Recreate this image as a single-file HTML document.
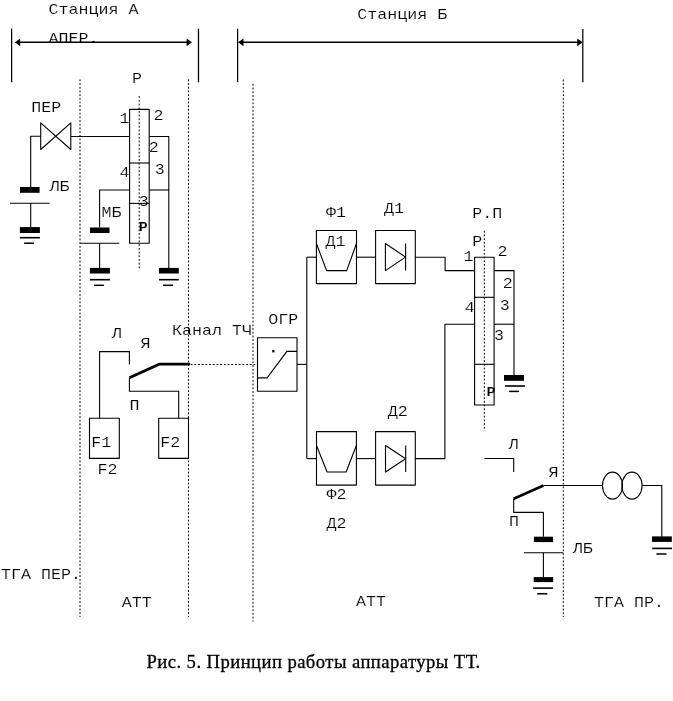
<!DOCTYPE html>
<html lang="ru"><head><meta charset="utf-8"><title>Рис. 5</title>
<style>
html,body{margin:0;padding:0;background:#fff;}
body{width:673px;height:701px;overflow:hidden;position:relative;filter:grayscale(1);}
svg{position:absolute;left:0;top:0;display:block;}
svg *{vector-effect:none;}
.g{fill:none;stroke:#000;stroke-linejoin:round;}
.t text{font-family:"Liberation Mono","DejaVu Sans Mono",monospace;fill:#000;stroke:#fff;stroke-width:0.14;paint-order:fill stroke;text-anchor:middle;}
.cap{position:absolute;left:146.5px;top:651px;margin:0;white-space:nowrap;font-family:"Liberation Serif","DejaVu Serif",serif;font-size:18.67px;letter-spacing:0.43px;-webkit-text-stroke:0.3px #000;line-height:22px;color:#000;}
</style></head><body>
<svg width="673" height="701" viewBox="0 0 673 701">
<g class="g t">
<text transform="translate(93.5,14) scale(1.142,1)" font-size="14.6">Станция А</text>
<text transform="translate(73.5,43.0) scale(1.142,1)" font-size="14.6">АПЕР.</text>
<text transform="translate(136.9,82.8) scale(1.142,1)" font-size="14.6">Р</text>
<text transform="translate(46.3,112) scale(1.142,1)" font-size="14.6">ПЕР</text>
<text transform="translate(124.5,122.8) scale(1.142,1)" font-size="14.6">1</text>
<text transform="translate(158.4,119.7) scale(1.142,1)" font-size="14.6">2</text>
<text transform="translate(153.8,152) scale(1.142,1)" font-size="14.6">2</text>
<text transform="translate(124.5,177) scale(1.142,1)" font-size="14.6">4</text>
<text transform="translate(159.8,174) scale(1.142,1)" font-size="14.6">3</text>
<text transform="translate(143.8,205.7) scale(1.142,1)" font-size="14.6">3</text>
<text transform="translate(111.4,216.8) scale(1.142,1)" font-size="14.6">МБ</text>
<text transform="translate(59.5,191) scale(1.142,1)" font-size="14.6">ЛБ</text>
<text transform="translate(116.8,337.6) scale(1.142,1)" font-size="14.6">Л</text>
<text transform="translate(145.5,347.5) scale(1.142,1)" font-size="14.6">Я</text>
<text transform="translate(212,334.8) scale(1.142,1)" font-size="14.6">Канал ТЧ</text>
<text transform="translate(134.6,410.4) scale(1.142,1)" font-size="14.6">П</text>
<text transform="translate(101.2,447) scale(1.142,1)" font-size="14.6">F1</text>
<text transform="translate(170.2,447) scale(1.142,1)" font-size="14.6">F2</text>
<text transform="translate(107.4,474.4) scale(1.142,1)" font-size="14.6">F2</text>
<text transform="translate(402.2,18.6) scale(1.142,1)" font-size="14.6">Станция Б</text>
<text transform="translate(336,217.1) scale(1.142,1)" font-size="14.6">Ф1</text>
<text transform="translate(394,213.2) scale(1.142,1)" font-size="14.6">Д1</text>
<text transform="translate(335.5,245.8) scale(1.142,1)" font-size="14.6">Д1</text>
<text transform="translate(487.3,218.2) scale(1.142,1)" font-size="14.6">Р.П</text>
<text transform="translate(477.2,245.8) scale(1.142,1)" font-size="14.6">Р</text>
<text transform="translate(468.5,260.8) scale(1.142,1)" font-size="14.6">1</text>
<text transform="translate(502.6,256) scale(1.142,1)" font-size="14.6">2</text>
<text transform="translate(507.8,288.4) scale(1.142,1)" font-size="14.6">2</text>
<text transform="translate(469.8,311.9) scale(1.142,1)" font-size="14.6">4</text>
<text transform="translate(504.8,309.6) scale(1.142,1)" font-size="14.6">3</text>
<text transform="translate(498.9,339.5) scale(1.142,1)" font-size="14.6">3</text>
<text transform="translate(513.6,448.6) scale(1.142,1)" font-size="14.6">Л</text>
<text transform="translate(283.2,324) scale(1.142,1)" font-size="14.6">ОГР</text>
<text transform="translate(397.8,415.9) scale(1.142,1)" font-size="14.6">Д2</text>
<text transform="translate(336.5,499.3) scale(1.142,1)" font-size="14.6">Ф2</text>
<text transform="translate(336.5,528.3) scale(1.142,1)" font-size="14.6">Д2</text>
<text transform="translate(553.5,476.9) scale(1.142,1)" font-size="14.6">Я</text>
<text transform="translate(514,526) scale(1.142,1)" font-size="14.6">П</text>
<text transform="translate(582.7,553.2) scale(1.142,1)" font-size="14.6">ЛБ</text>
<text transform="translate(629,607) scale(1.142,1)" font-size="14.6">ТГА ПР.</text>
<text transform="translate(41,578.8) scale(1.142,1)" font-size="14.6">ТГА ПЕР.</text>
<text transform="translate(136.7,606.5) scale(1.142,1)" font-size="14.6">АТТ</text>
<text transform="translate(371,606) scale(1.142,1)" font-size="14.6">АТТ</text>
<text transform="translate(143.2,230.6) scale(1.1,1)" font-size="13.6" font-weight="bold" stroke="none">Р</text>
<text transform="translate(490.9,395.5) scale(1.1,1)" font-size="13.6" font-weight="bold" stroke="none">Р</text>
<line x1="11.6" y1="28.5" x2="11.6" y2="82.2" stroke-width="1.25" />
<line x1="198.5" y1="28.7" x2="198.5" y2="82.3" stroke-width="1.25" />
<line x1="19" y1="42.3" x2="188" y2="42.3" stroke-width="1.5" />
<polygon points="14.8,42.3 20.2,38.4 20.2,46.2" stroke-width="0" fill="#000" stroke="none"/>
<polygon points="192,42.3 186.6,38.4 186.6,46.2" stroke-width="0" fill="#000" stroke="none"/>
<line x1="237.6" y1="28.7" x2="237.6" y2="82.2" stroke-width="1.25" />
<line x1="582.8" y1="28.9" x2="582.8" y2="82.3" stroke-width="1.25" />
<line x1="242" y1="42.3" x2="578" y2="42.3" stroke-width="1.5" />
<polygon points="238,42.3 243.5,38.4 243.5,46.2" stroke-width="0" fill="#000" stroke="none"/>
<polygon points="582.6,42.3 577.2,38.4 577.2,46.2" stroke-width="0" fill="#000" stroke="none"/>
<line x1="80.0" y1="79.4" x2="80.0" y2="617" stroke-width="1.0" stroke-dasharray="1.85 1.85"/>
<line x1="188.5" y1="79.4" x2="188.5" y2="616.8" stroke-width="1.0" stroke-dasharray="1.85 1.85"/>
<line x1="253.0" y1="83.9" x2="253.0" y2="621.5" stroke-width="1.0" stroke-dasharray="1.85 1.85"/>
<line x1="563.3" y1="79.5" x2="563.3" y2="616.9" stroke-width="1.0" stroke-dasharray="1.85 1.85"/>
<line x1="139.2" y1="96.2" x2="139.2" y2="270.2" stroke-width="1.0" stroke-dasharray="1.85 1.85"/>
<line x1="484.3" y1="230.7" x2="484.3" y2="430.8" stroke-width="1.0" stroke-dasharray="1.85 1.85"/>
<line x1="190.6" y1="364.5" x2="257.5" y2="364.5" stroke-width="1.0" stroke-dasharray="1.85 1.85"/>
<polygon points="40.7,122.8 70.8,149.5 70.8,122.8 40.7,149.5" stroke-width="1.1" />
<polyline points="40.7,136.3 30.7,136.3 30.7,187" stroke-width="1.1" />
<line x1="70.8" y1="136.5" x2="129.6" y2="136.5" stroke-width="1.1" />
<rect x="20" y="187" width="19.6" height="5.8" fill="#000" stroke="none"/>
<line x1="10" y1="203.3" x2="49.6" y2="203.3" stroke-width="1.1" />
<line x1="30.7" y1="203.3" x2="30.7" y2="227.6" stroke-width="1.1" />
<rect x="19.9" y="227.1" width="20.0" height="5.9" fill="#000" stroke="none"/>
<line x1="19.9" y1="237.7" x2="39.9" y2="237.7" stroke-width="1.6" />
<line x1="24.1" y1="243.2" x2="33.9" y2="243.2" stroke-width="1.5" />
<rect x="129.6" y="109.4" width="19.6" height="133.9" stroke-width="1.1"/>
<line x1="129.6" y1="163" x2="149.2" y2="163" stroke-width="1.1" />
<line x1="129.6" y1="203.4" x2="149.2" y2="203.4" stroke-width="1.1" />
<polyline points="149.2,136.5 168.8,136.5 168.8,268.4" stroke-width="1.1" />
<line x1="149.2" y1="190" x2="168.8" y2="190" stroke-width="1.1" />
<polyline points="129.6,190 99.6,190 99.6,227.6" stroke-width="1.1" />
<rect x="90" y="227.5" width="19.5" height="5.5" fill="#000" stroke="none"/>
<line x1="80.2" y1="243.3" x2="119.3" y2="243.3" stroke-width="1.1" />
<line x1="99.6" y1="243.3" x2="99.6" y2="268.4" stroke-width="1.1" />
<rect x="89.9" y="267.9" width="20.0" height="5.6" fill="#000" stroke="none"/>
<line x1="89.9" y1="279.7" x2="109.9" y2="279.7" stroke-width="1.6" />
<line x1="94.1" y1="285.3" x2="103.9" y2="285.3" stroke-width="1.5" />
<rect x="159" y="267.9" width="19.8" height="5.6" fill="#000" stroke="none"/>
<line x1="159" y1="279.7" x2="178.8" y2="279.7" stroke-width="1.6" />
<line x1="163.1" y1="285.3" x2="173.1" y2="285.3" stroke-width="1.5" />
<polyline points="99.6,418.2 99.6,351.6 129.4,351.6 129.4,364.6" stroke-width="1.1" />
<polyline points="129.4,377.8 159.3,364.2 189.9,364.2" stroke-width="2.7" stroke-linejoin="miter"/>
<polyline points="129.4,378 129.4,391.3 178.7,391.3 178.7,418.2" stroke-width="1.1" />
<rect x="89.5" y="418.2" width="29.8" height="40.2" stroke-width="1.1"/>
<rect x="158.7" y="418.2" width="29.8" height="40.2" stroke-width="1.1"/>
<rect x="257.5" y="337.8" width="39.5" height="53.5" stroke-width="1.1"/>
<polyline points="257.5,377.9 267.1,377.9 286.9,351.4 297,351.4" stroke-width="1.1" />
<rect x="272.2" y="350.1" width="2.3" height="2.3" fill="#000" stroke="none"/>
<line x1="297" y1="364.4" x2="307" y2="364.4" stroke-width="1.1" />
<line x1="306.8" y1="257.2" x2="306.8" y2="458.6" stroke-width="1.1" />
<line x1="306.8" y1="257.2" x2="316.4" y2="257.2" stroke-width="1.1" />
<rect x="316.4" y="230.5" width="40.1" height="53.1" stroke-width="1.1"/>
<polyline points="316.4,243.5 326.6,270.6 346.7,270.6 356.5,243.5" stroke-width="1.1" />
<line x1="356.5" y1="257.2" x2="375.6" y2="257.2" stroke-width="1.1" />
<rect x="375.6" y="230.5" width="39.7" height="53.1" stroke-width="1.1"/>
<polygon points="385.4,243.5 385.4,270.6 405.5,257.1" stroke-width="1.1" />
<line x1="405.6" y1="243.5" x2="405.6" y2="270.6" stroke-width="1.1" />
<polyline points="415.3,257.2 445.1,257.2 445.1,270.6 474.6,270.6" stroke-width="1.1" />
<line x1="306.8" y1="458.6" x2="316.5" y2="458.6" stroke-width="1.1" />
<rect x="316.5" y="431.6" width="39.9" height="53.5" stroke-width="1.1"/>
<polyline points="316.5,445.5 327.1,472 346.1,472 356.4,445.5" stroke-width="1.1" />
<line x1="356.4" y1="458.6" x2="375.6" y2="458.6" stroke-width="1.1" />
<rect x="375.6" y="431.6" width="39.7" height="53.5" stroke-width="1.1"/>
<polygon points="385.5,445.5 385.5,472 405.6,458.7" stroke-width="1.1" />
<line x1="405.7" y1="445.5" x2="405.7" y2="472" stroke-width="1.1" />
<polyline points="415.3,458.6 444.9,458.6 444.9,324.2 474.6,324.2" stroke-width="1.1" />
<rect x="474.6" y="257.2" width="19.5" height="147.8" stroke-width="1.1"/>
<line x1="474.6" y1="297.3" x2="494.1" y2="297.3" stroke-width="1.1" />
<line x1="474.6" y1="364.3" x2="494.1" y2="364.3" stroke-width="1.1" />
<polyline points="494.1,270.6 514,270.6 514,375.6" stroke-width="1.1" />
<line x1="494.1" y1="324.2" x2="514" y2="324.2" stroke-width="1.1" />
<rect x="504" y="375" width="20" height="5.8" fill="#000" stroke="none"/>
<line x1="505.1" y1="386" x2="524.9" y2="386" stroke-width="1.6" />
<line x1="509.2" y1="391.4" x2="519.1" y2="391.4" stroke-width="1.5" />
<polyline points="484.3,458.5 513.7,458.5 513.7,471.9" stroke-width="1.1" />
<line x1="513.7" y1="498.7" x2="543.5" y2="485.5" stroke-width="2.6" />
<line x1="543.5" y1="485.5" x2="602.5" y2="485.5" stroke-width="1.1" />
<polyline points="513.7,498.7 513.7,512.4 543.4,512.4 543.4,536.8" stroke-width="1.1" />
<rect x="533.9" y="536.7" width="19.2" height="5.4" fill="#000" stroke="none"/>
<line x1="524" y1="552.8" x2="563.3" y2="552.8" stroke-width="1.1" />
<line x1="543.4" y1="552.8" x2="543.4" y2="577.3" stroke-width="1.1" />
<rect x="533.7" y="577.1" width="19.5" height="5.0" fill="#000" stroke="none"/>
<line x1="533.2" y1="588.1" x2="553.1" y2="588.1" stroke-width="1.6" />
<line x1="537.2" y1="593.8" x2="547.3" y2="593.8" stroke-width="1.5" />
<ellipse cx="612.5" cy="485.6" rx="10" ry="13.5" stroke-width="1.1"/>
<ellipse cx="632" cy="485.6" rx="10.1" ry="13.5" stroke-width="1.1"/>
<polyline points="642.1,485.5 661.8,485.5 661.8,536.8" stroke-width="1.1" />
<rect x="652" y="536.4" width="19.8" height="5.5" fill="#000" stroke="none"/>
<line x1="652.2" y1="548.4" x2="672" y2="548.4" stroke-width="1.6" />
<line x1="656.4" y1="554" x2="666.5" y2="554" stroke-width="1.5" />
</g>
</svg>
<p class="cap">Рис. 5. Принцип работы аппаратуры ТТ.</p>
</body></html>
